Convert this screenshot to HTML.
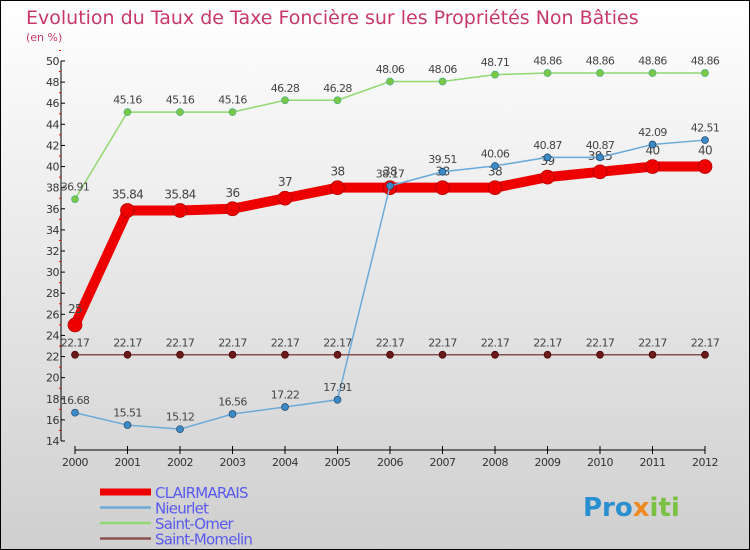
<!DOCTYPE html>
<html><head><meta charset="utf-8"><style>
body{margin:0}
svg{display:block;font-family:"DejaVu Sans","Liberation Sans",sans-serif}
</style></head><body>
<svg id="c" width="750" height="550">
<defs><linearGradient id="bg" x1="0" y1="0" x2="0" y2="1"><stop offset="0" stop-color="#ffffff"/><stop offset="1" stop-color="#cfcfcf"/></linearGradient></defs>
<rect x="0.5" y="0.5" width="749" height="549" fill="url(#bg)" stroke="#000"/>
<text x="26" y="24" font-size="19" fill="#c8386a">Evolution du Taux de Taxe Foncière sur les Propriétés Non Bâties</text>
<text x="26" y="41" font-size="11" fill="#c8386a">(en %)</text>
<g id="axes"></g><g id="marks"></g><g id="legend"></g>
<text x="583" y="516" font-size="26" font-weight="bold" fill="#2a8fd0">Pro<tspan fill="#f08a20">x</tspan><tspan fill="#7ac143">iti</tspan></text>
</svg>
<script>
const years=[2000,2001,2002,2003,2004,2005,2006,2007,2008,2009,2010,2011,2012];
const clairmarais=[25,35.84,35.84,36,37,38,38,38,38,39,39.5,40,40];
const nieurlet=[16.68,15.51,15.12,16.56,17.22,17.91,38.17,39.51,40.06,40.87,40.87,42.09,42.51];
const saintOmer=[36.91,45.16,45.16,45.16,46.28,46.28,48.06,48.06,48.71,48.86,48.86,48.86,48.86];
const saintMomelin=[22.17,22.17,22.17,22.17,22.17,22.17,22.17,22.17,22.17,22.17,22.17,22.17,22.17];
const yTicks=[14,16,18,20,22,24,26,28,30,32,34,36,38,40,42,44,46,48,50];
const NS='http://www.w3.org/2000/svg';
const x=i=>75+i*52.5;
const y=v=>441-(v-14)*(380/36);
function mk(p,t,a){const e=document.createElementNS(NS,t);for(const k in a)e.setAttribute(k,a[k]);p.appendChild(e);return e;}
const ax=document.getElementById('axes');
let l=mk(ax,'line',{x1:61,y1:y(50),x2:61,y2:y(14),stroke:'#000'});


yTicks.forEach(v=>{
 const t=mk(ax,'line',{x1:61,x2:65,y1:y(v),y2:y(v),stroke:'#000'});
 
 
 const r=mk(ax,'line',{x1:59,x2:61,y1:y(v+1),y2:y(v+1),stroke:'#e00'});
 
 
 const tx=mk(ax,'text',{x:59,y:y(v)+4,'font-size':11,fill:'#333','text-anchor':'end','letter-spacing':'-0.5'});
 tx.textContent=v;
 
 
});
l=mk(ax,'line',{x1:75,y1:450,x2:705,y2:450,stroke:'#000'});


years.forEach((yr,i)=>{
 const t=mk(ax,'line',{x1:x(i),x2:x(i),y1:446,y2:454,stroke:'#000'});
 
 
 const tx=mk(ax,'text',{x:x(i),y:466,'font-size':11,fill:'#333','text-anchor':'middle','letter-spacing':'-0.5'});
 tx.textContent=yr;
 
 
});
const series=[
 {name:'clairmarais',label:'CLAIRMARAIS',d:clairmarais,c:'#ee0000',w:10,r:7,pc:'#ee0000',ps:'#a00',fs:12},
 {name:'nieurlet',label:'Nieurlet',d:nieurlet,c:'#6aaad8',w:1.5,r:3.5,pc:'#3a8ac8',ps:'#246',fs:11},
 {name:'saint-omer',label:'Saint-Omer',d:saintOmer,c:'#90d870',w:1.5,r:3.5,pc:'#7ac843',ps:'#4a8',fs:11},
 {name:'saint-momelin',label:'Saint-Momelin',d:saintMomelin,c:'#8a5050',w:1.5,r:3.5,pc:'#6a1a1a',ps:'#400',fs:11}
];
const mg=document.getElementById('marks');
series.forEach(s=>{
 const pl=mk(mg,'polyline',{points:s.d.map((v,i)=>x(i)+','+y(v)).join(' '),fill:'none',stroke:s.c,'stroke-width':s.w,'stroke-linejoin':'round'});
 
 
 s.d.forEach((v,i)=>{
  const c=mk(mg,'circle',{cx:x(i),cy:y(v),r:s.r,fill:s.pc,stroke:s.ps,'stroke-width':0.7});
  
  
  const t=mk(mg,'text',{x:x(i),y:y(v)-(s.r+5),'font-size':s.fs,fill:'#444','text-anchor':'middle','letter-spacing':'-0.6'});
  t.textContent=v;
  
  
 });
});
const lg=document.getElementById('legend');
series.forEach((s,i)=>{
 const yy=492+i*15.5;
 const ln=mk(lg,'line',{x1:100,x2:151,y1:yy,y2:yy,stroke:s.c,'stroke-width':i==0?7:2.5});
 
 
 const t=mk(lg,'text',{x:155,y:yy+6,'font-size':15,fill:'#5a5af0','letter-spacing':'-0.8'});
 t.textContent=s.label;
 
 
});
</script>
</body></html>
